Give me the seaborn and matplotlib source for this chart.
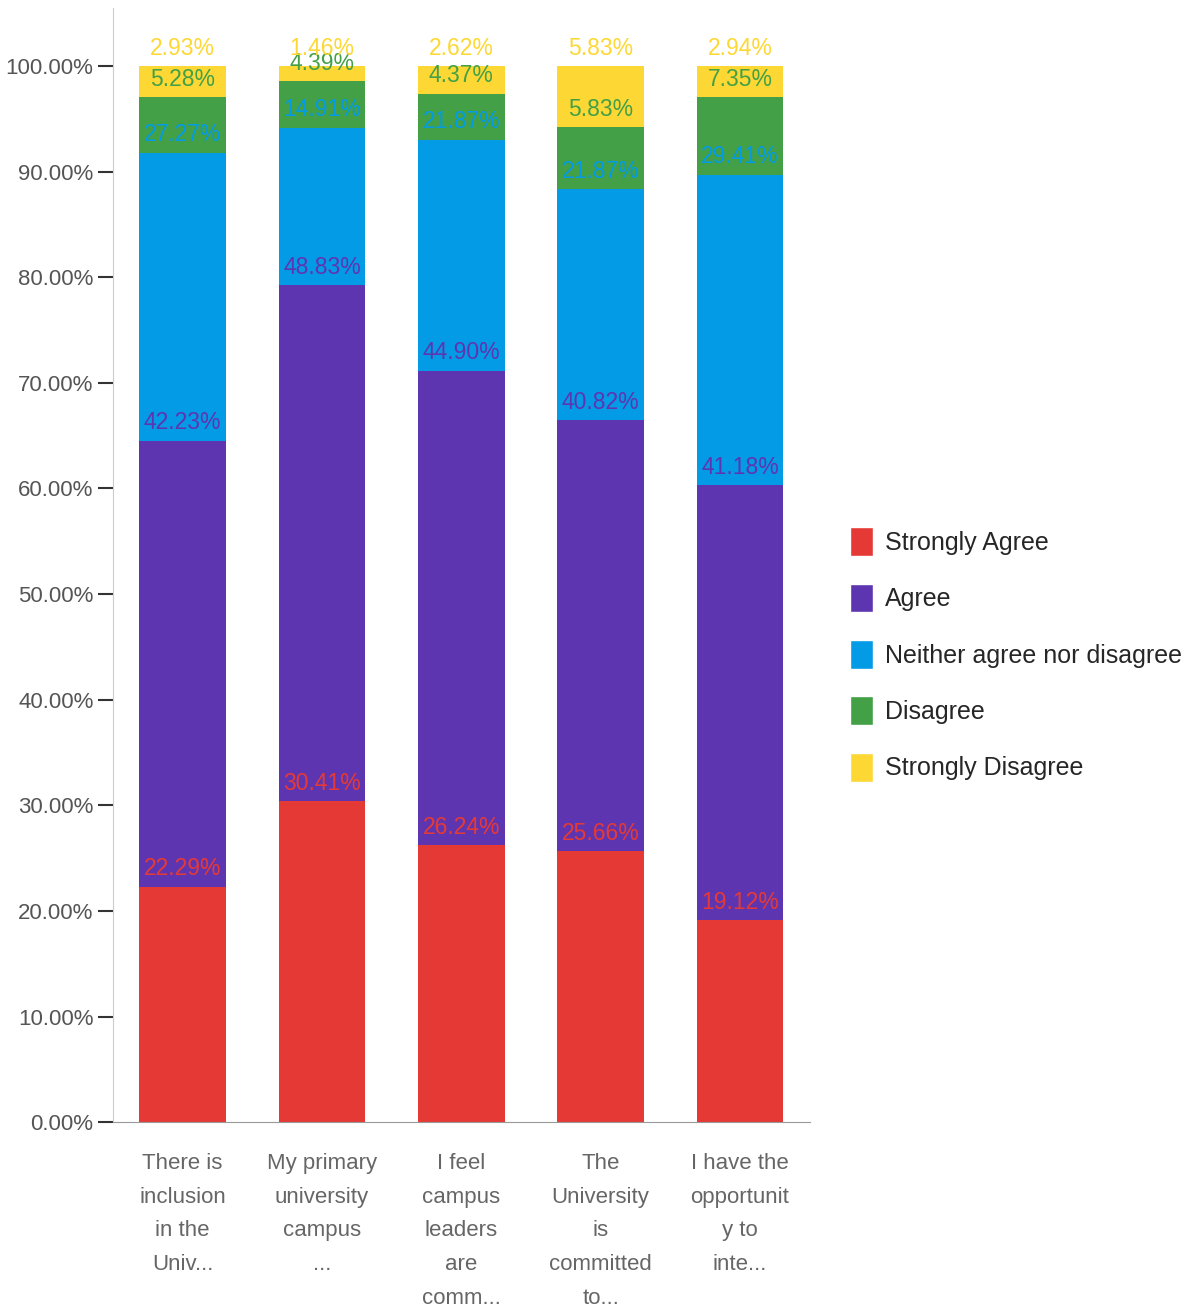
import numpy as np
import matplotlib
matplotlib.use("Agg")
import matplotlib.pyplot as plt
import seaborn as sns
from matplotlib.patches import Patch

# data (percent of responses)
questions = ["There is\ninclusion\nin the\nUniv...",
             "My primary\nuniversity\ncampus\n...",
             "I feel\ncampus\nleaders\nare\ncomm...",
             "The\nUniversity\nis\ncommitted\nto...",
             "I have the\nopportunit\ny to\ninte..."]
levels = ["Strongly Agree", "Agree", "Neither agree nor disagree", "Disagree", "Strongly Disagree"]
strongly_agree = [22.29, 30.41, 26.24, 25.66, 19.12]
agree = [42.23, 48.83, 44.90, 40.82, 41.18]
neither = [27.27, 14.91, 21.87, 21.87, 29.41]
disagree = [5.28, 4.39, 4.37, 5.83, 7.35]
strongly_disagree = [2.93, 1.46, 2.62, 5.83, 2.94]
colors = ["#E53935", "#5E35B1", "#039BE5", "#43A047", "#FDD835"]

sns.set_style("white")
plt.rcParams['font.family'] = ['Liberation Sans', 'DejaVu Sans']

fig = plt.figure(figsize=(11.93, 13.14), dpi=100)
ax = fig.add_axes([0.0947, 0.146, 0.584, 0.848])

series = [strongly_agree, agree, neither, disagree, strongly_disagree]
cum = np.cumsum(np.array(series), axis=0)
cum[-1] = np.minimum(cum[-1], 100)

# stacked bars: draw cumulative totals from the top layer down
x = list(range(len(questions)))
for k in range(len(series) - 1, -1, -1):
    sns.barplot(x=x, y=cum[k], color=colors[k], saturation=1, width=0.62,
                ax=ax, native_scale=True, linewidth=0)

# value labels sit just above each segment's top edge
for k in range(len(series)):
    for i in x:
        ax.text(i, cum[k][i] + 0.6, f"{series[k][i]:.2f}%", ha='center', va='bottom',
                color=colors[k], fontsize=16.5)

ax.set_xlim(-0.5, 4.5)
ax.set_ylim(0, 105.5)
ax.set_yticks(np.arange(0, 101, 10))
ax.set_yticklabels([f"{v:.2f}%" for v in np.arange(0, 101, 10)])
ax.set_xticks(x)
ax.set_xticklabels(questions, linespacing=1.8)
ax.set_xticks([0.5, 1.5, 2.5, 3.5], minor=True)
ax.tick_params(axis='x', which='major', length=0, pad=22, labelsize=16, labelcolor='#666666')
ax.tick_params(axis='x', which='minor', length=15, width=1.2, color='#333333', direction='out')
ax.tick_params(axis='y', length=11, width=1.5, color='#333333', direction='out', pad=3,
               labelsize=16, labelcolor='#555555', left=True)
ax.set_xlabel("")
ax.set_ylabel("")

for s in ['top', 'right']:
    ax.spines[s].set_visible(False)
ax.spines['left'].set_color('#cccccc')
ax.spines['bottom'].set_color('#999999')

handles = [Patch(facecolor=c, label=l) for c, l in zip(colors, levels)]
fig.legend(handles=handles, loc='center left', bbox_to_anchor=(0.694, 0.502),
           frameon=False, fontsize=18, handlelength=0.9, handleheight=1.4,
           handletextpad=0.5, labelspacing=1.1)

fig.savefig("out.png", dpi=100)
